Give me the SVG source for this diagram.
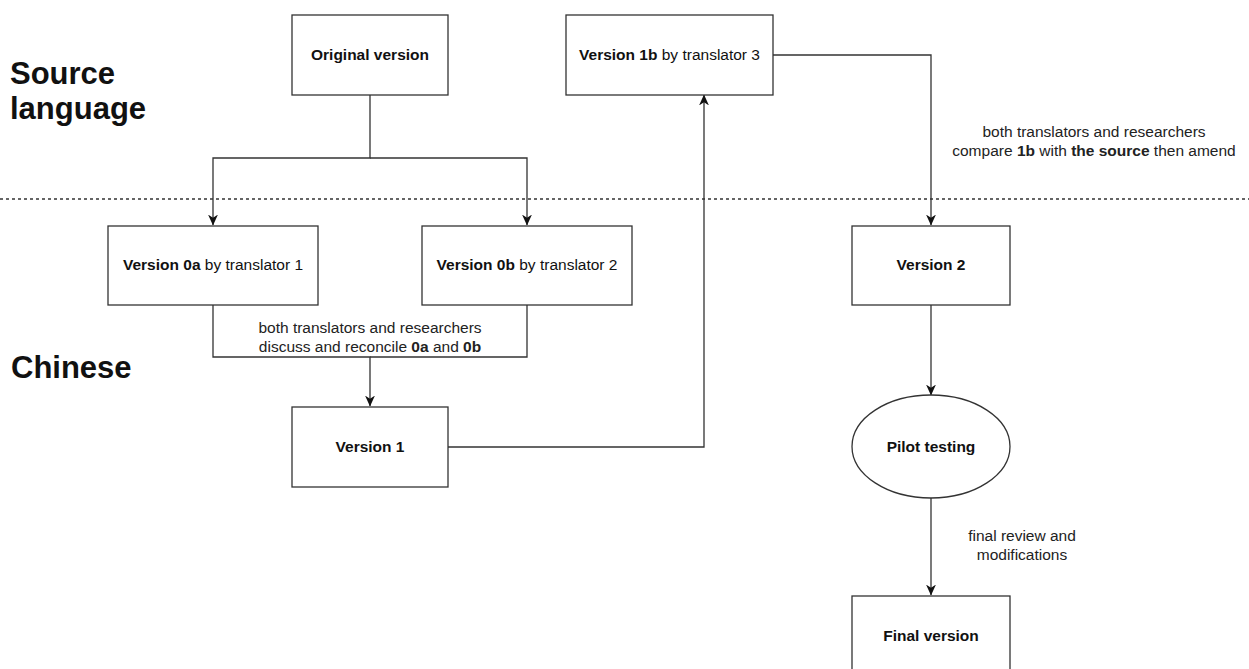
<svg xmlns="http://www.w3.org/2000/svg" width="1249" height="669" viewBox="0 0 1249 669">
<defs>
<style>
.box{fill:#fff;stroke:#333;stroke-width:1.3}
.lbl{font-family:"Liberation Sans",Arial,sans-serif;font-size:15.5px;fill:#111;text-anchor:middle}
.b{font-weight:bold}
.edge{fill:none;stroke:#333;stroke-width:1.3}
.title{font-family:"Liberation Sans",Arial,sans-serif;font-size:31px;font-weight:bold;fill:#111}
.el{font-family:"Liberation Sans",Arial,sans-serif;font-size:15.5px;fill:#222;text-anchor:middle}
</style>
<marker id="arr" viewBox="0 0 10 10" refX="9.5" refY="5" markerWidth="11" markerHeight="11" markerUnits="userSpaceOnUse" orient="auto">
<path d="M0,0.5 L10,5 L0,9.5 L3,5 Z" fill="#111"/>
</marker>
</defs>
<rect width="1249" height="669" fill="#fff"/>
<g id="titles">
<text class="title" x="10" y="84">Source</text>
<text class="title" x="10" y="119">language</text>
<text class="title" x="11" y="378">Chinese</text>
</g>
<line x1="0" y1="199" x2="1249" y2="199" stroke="#333" stroke-width="1.3" stroke-dasharray="3,3"/>
<g id="connectors">
<path class="edge" d="M370 95 V158 H213 V225" marker-end="url(#arr)"/>
<path class="edge" d="M370 158 H527 V225" marker-end="url(#arr)"/>
<path class="edge" d="M213 305 V357 H370 V406" marker-end="url(#arr)"/>
<path class="edge" d="M527 305 V357 H370"/>
<path class="edge" d="M448 447 H704 V95" marker-end="url(#arr)"/>
<path class="edge" d="M773 55 H931 V225" marker-end="url(#arr)"/>
<path class="edge" d="M931 305 V395" marker-end="url(#arr)"/>
<path class="edge" d="M931 498 V595" marker-end="url(#arr)"/>
<text class="el" x="1094" y="137">both translators and researchers</text>
<text class="el" x="1094" y="156">compare <tspan class="b">1b</tspan> with <tspan class="b">the source</tspan> then amend</text>
<text class="el" x="370" y="333">both translators and researchers</text>
<text class="el" x="370" y="352">discuss and reconcile <tspan class="b">0a</tspan> and <tspan class="b">0b</tspan></text>
<text class="el" x="1022" y="541">final review and</text>
<text class="el" x="1022" y="560">modifications</text>
</g>
<g id="original">
<rect class="box" x="292" y="15" width="156" height="80"/>
<text class="lbl b" x="370" y="60">Original version</text>
</g>
<g id="v1b">
<rect class="box" x="566" y="15" width="207" height="80"/>
<text class="lbl" x="669.5" y="60"><tspan class="b">Version 1b</tspan> by translator 3</text>
</g>
<g id="v0a">
<rect class="box" x="108" y="226" width="210" height="79"/>
<text class="lbl" x="213" y="270"><tspan class="b">Version 0a</tspan> by translator 1</text>
</g>
<g id="v0b">
<rect class="box" x="422" y="226" width="210" height="79"/>
<text class="lbl" x="527" y="270"><tspan class="b">Version 0b</tspan> by translator 2</text>
</g>
<g id="v1">
<rect class="box" x="292" y="407" width="156" height="80"/>
<text class="lbl b" x="370" y="452">Version 1</text>
</g>
<g id="v2">
<rect class="box" x="852" y="226" width="158" height="79"/>
<text class="lbl b" x="931" y="270">Version 2</text>
</g>
<g id="pilot">
<ellipse class="box" cx="931" cy="446.5" rx="79" ry="51.5"/>
<text class="lbl b" x="931" y="452">Pilot testing</text>
</g>
<g id="final">
<rect class="box" x="852" y="596" width="158" height="80"/>
<text class="lbl b" x="931" y="641">Final version</text>
</g>
</svg>
